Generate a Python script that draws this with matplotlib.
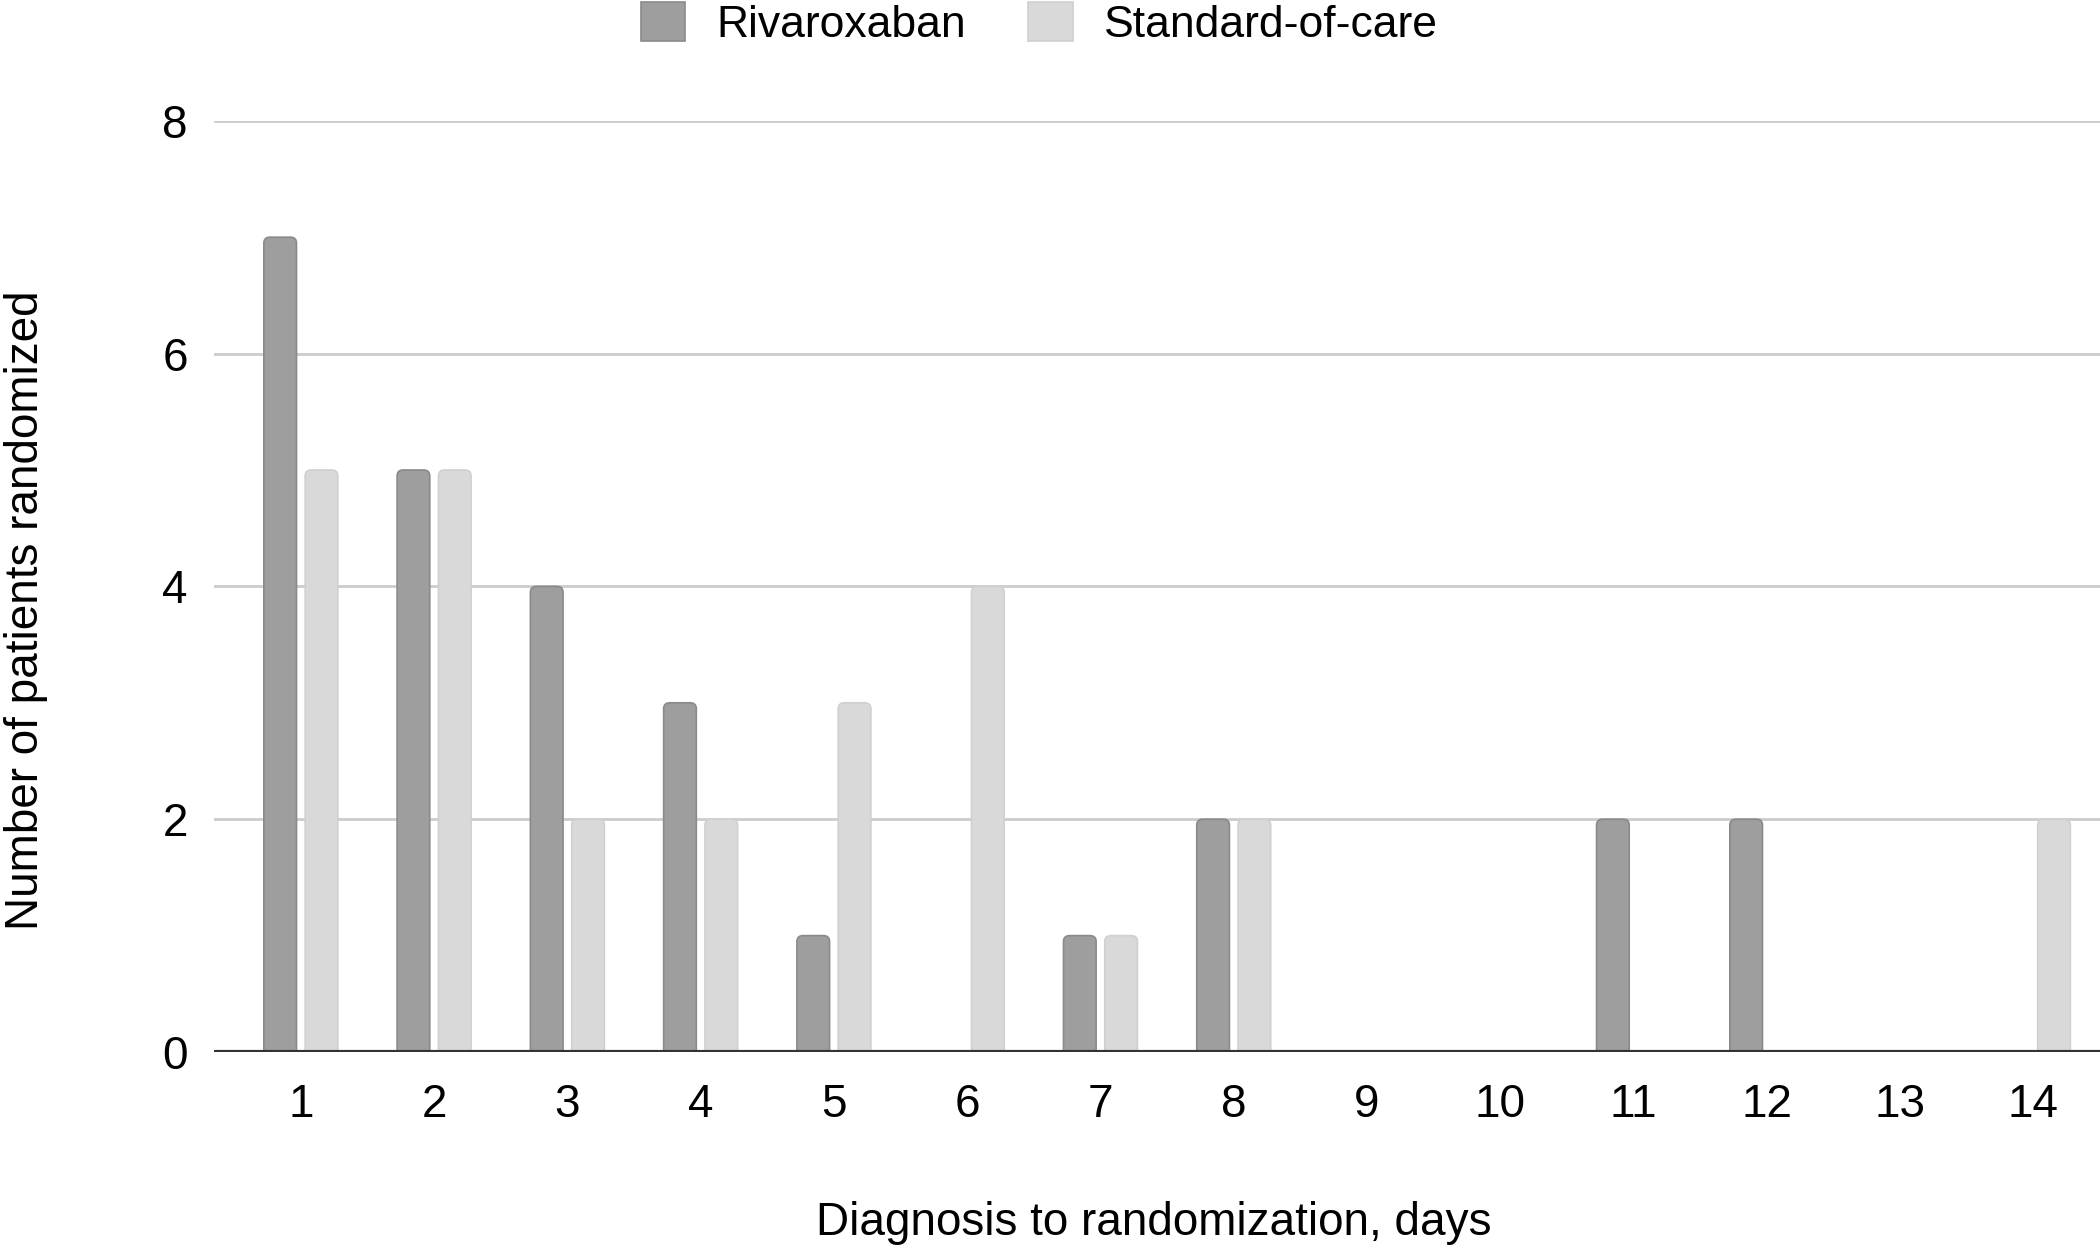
import matplotlib
matplotlib.use("Agg")
import matplotlib.pyplot as plt
from matplotlib.patches import FancyBboxPatch
import numpy as np

days = ["1", "2", "3", "4", "5", "6", "7", "8", "9", "10", "11", "12", "13", "14"]
rivaroxaban = [7, 5, 4, 3, 1, 0, 1, 2, 0, 0, 2, 2, 0, 0]
standard_of_care = [5, 5, 2, 2, 3, 4, 1, 2, 0, 0, 0, 0, 0, 2]
y_ticks = [0, 2, 4, 6, 8]

plt.rcParams["font.family"] = ["Liberation Sans", "DejaVu Sans"]

fig = plt.figure(figsize=(21, 12.45), dpi=100)
ax = fig.add_axes([0.102, 0.155, 0.898, 0.748])

x = np.arange(1, len(days) + 1)
w = 0.245
b1 = ax.bar(x - 0.155, rivaroxaban, w, color="#9e9e9e", edgecolor="#8a8a8a",
            linewidth=1.2, label="Rivaroxaban", zorder=3)
b2 = ax.bar(x + 0.155, standard_of_care, w, color="#d9d9d9", edgecolor="#d0d0d0",
            linewidth=1.2, label="Standard-of-care", zorder=3)

# swap plain bars for rounded-top ones
for cont in (b1, b2):
    for p in cont.patches:
        bx, by = p.get_x(), p.get_y()
        bw, bh = p.get_width(), p.get_height()
        p.set_visible(False)
        if bh <= 0:
            continue
        rp = FancyBboxPatch((bx, by - 0.2), bw, bh + 0.2,
                            boxstyle="round,pad=0,rounding_size=0.045",
                            mutation_aspect=1.14,
                            facecolor=p.get_facecolor(), edgecolor=p.get_edgecolor(),
                            linewidth=1.2, zorder=3)
        ax.add_patch(rp)

ax.set_xlim(0.35, 14.5)
ax.set_ylim(0, 8)
ax.set_yticks(y_ticks)
ax.set_xticks(x)
ax.set_xticklabels(days)
ax.yaxis.grid(True, color="#cccccc", linewidth=2, zorder=0)
ax.set_axisbelow(True)
ax.axhline(0, color="#333333", linewidth=3, zorder=4)
for s in ax.spines.values():
    s.set_visible(False)
ax.tick_params(axis="both", length=0, labelsize=33, colors="#000000")
ax.tick_params(axis="y", pad=19)
ax.tick_params(axis="x", pad=22)

ax.set_ylabel("Number of patients randomized", fontsize=33)
ax.yaxis.set_label_coords(-0.088, 0.474)
ax.set_xlabel("Diagnosis to randomization, days", fontsize=33)
ax.xaxis.set_label_coords(0.498, -0.16)

leg = fig.legend(handles=[b1, b2], labels=["Rivaroxaban", "Standard-of-care"],
                 loc="center", bbox_to_anchor=(0.495, 0.981), ncol=2,
                 frameon=False, fontsize=32, handlelength=1.0, handleheight=1.0,
                 handletextpad=0.7, columnspacing=1.4, borderaxespad=0)
for h in leg.legend_handles:
    h.set_visible(True)

fig.savefig("out.png", dpi=100)
